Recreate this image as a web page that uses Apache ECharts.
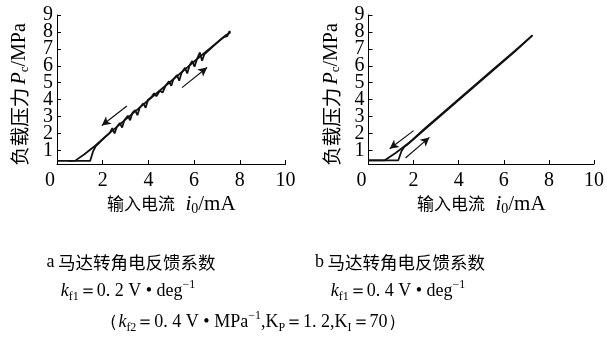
<!DOCTYPE html>
<html><head><meta charset="utf-8">
<script src="https://cdn.jsdelivr.net/npm/echarts@6/dist/echarts.min.js"></script>
<style>html,body{margin:0;padding:0;background:#fff}#c{width:607px;height:350px}</style>
</head><body><div id="c"></div>
<script>
// ---- data ----
const xTickValues = [0, 2, 4, 6, 8, 10];
const yTickValues = [1, 2, 3, 4, 5, 6, 7, 8, 9];
const yLabelsOdd = [1, 3, 5, 7, 9];
const yLabelsEven = [2, 4, 6, 8];

// chart a: k_f1 = 0.2, increasing current path (with oscillation)
const aUp = [[0,0.38],[1.45,0.38],[1.58,0.95],[1.68,1.22],[2.0,1.65],[2.3,2.02],[2.42,2.32],[2.52,2.0],[2.62,2.4],[2.75,2.62],[2.85,2.35],[2.95,2.8],[3.1,3.05],[3.2,2.78],[3.3,3.22],[3.42,3.38],[3.52,3.08],[3.62,3.52],[3.78,3.78],[3.88,3.52],[3.98,3.98],[4.15,4.18],[4.25,4.38],[4.35,4.2],[4.5,4.52],[4.62,4.42],[4.75,4.82],[4.9,5.08],[5.0,4.82],[5.1,5.22],[5.25,5.45],[5.35,5.12],[5.45,5.58],[5.6,5.88],[5.7,5.55],[5.8,6.02],[5.92,6.28],[6.02,5.95],[6.12,6.38],[6.25,6.78],[6.35,6.3],[6.45,6.68],[6.7,6.98],[7.0,7.35],[7.3,7.7],[7.45,7.75],[7.55,8.05],[7.58,7.95]];
// chart a: decreasing current path
const aDown = [[7.58,7.95],[7.4,7.82],[6.8,7.15],[6.0,6.25],[5.0,5.1],[4.2,4.2],[3.5,3.4],[2.8,2.6],[2.1,1.8],[1.6,1.2],[1.2,0.78],[0.8,0.4],[0.5,0.38]];
// chart b: k_f1 = 0.4
const bUp = [[0,0.42],[1.32,0.42],[1.46,0.95],[1.58,1.2],[1.7,1.32],[2.5,2.25],[3.5,3.4],[4.5,4.55],[5.5,5.7],[6.5,6.85],[7.27,7.8]];
const bDown = [[7.27,7.8],[6.5,6.9],[5.5,5.75],[4.5,4.6],[3.5,3.45],[2.5,2.3],[1.8,1.45],[1.2,0.85],[0.72,0.42],[0,0.42]];
// direction arrows [from, to] in data units
const aArrows = [[[3.06,3.62],[1.96,2.47]], [[5.47,4.71],[6.57,5.9]]];
const bArrows = [[[2.0,2.17],[0.94,1.10]], [[1.64,0.55],[2.70,1.77]]];

// ---- styling ----
const SERIF = 'Liberation Serif';
const CJK = 'Noto Sans CJK SC';
const INK = '#111';

function xAxisCfg(gi) {
  return {
    gridIndex: gi, type: 'value', min: 0, max: 10, interval: 2,
    axisLine: { show: true, onZero: false, lineStyle: { color: '#000', width: 1 } },
    axisTick: { show: true, inside: true, length: 4, lineStyle: { color: '#000' } },
    splitLine: { show: false },
    axisLabel: {
      margin: 7, color: '#000', fontSize: 20, fontFamily: SERIF,
      showMinLabel: true, showMaxLabel: true, hideOverlap: false,
      formatter: v => v === 0 ? '{z|0}' : String(v),
      rich: { z: { fontSize: 20, fontFamily: SERIF, color: '#000', padding: [0, 14, 0, 0] } }
    },
    name: '{h|输入电流}{t|  }{i|i}{s|0}{t|/mA}',
    nameLocation: 'middle', nameGap: 28,
    nameTextStyle: {
      color: '#000',
      rich: {
        h: { fontFamily: CJK, fontSize: 17, color: '#000', lineHeight: 24 },
        i: { fontFamily: SERIF, fontStyle: 'italic', fontSize: 21, color: '#000', lineHeight: 24 },
        s: { fontFamily: SERIF, fontSize: 14, color: '#000', lineHeight: 14, verticalAlign: 'bottom' },
        t: { fontFamily: SERIF, fontSize: 21, color: '#000', lineHeight: 24 }
      }
    }
  };
}
function yAxisCfg(gi) {
  return {
    gridIndex: gi, type: 'value', min: 0.2, max: 9,
    axisLine: { show: true, lineStyle: { color: '#000', width: 1 } },
    axisTick: { show: true, inside: true, length: 4, customValues: yTickValues, lineStyle: { color: '#000' } },
    splitLine: { show: false },
    axisLabel: { margin: 4, color: '#000', fontSize: 20, fontFamily: SERIF, customValues: yLabelsOdd,
      showMinLabel: true, showMaxLabel: true, hideOverlap: false },
    name: '{h|负载压力} {i|P}{s|c}{t|/MPa}',
    nameLocation: 'middle', nameGap: 26, nameRotate: 90,
    nameTextStyle: {
      color: '#000', padding: [0, 10, 0, 0],
      rich: {
        h: { fontFamily: CJK, fontSize: 19.5, color: '#000', lineHeight: 22 },
        i: { fontFamily: SERIF, fontStyle: 'italic', fontSize: 20, color: '#000', lineHeight: 22 },
        s: { fontFamily: SERIF, fontSize: 13, color: '#000', lineHeight: 13, verticalAlign: 'bottom' },
        t: { fontFamily: SERIF, fontSize: 20, color: '#000', lineHeight: 22 }
      }
    }
  };
}
// companion axis carrying the even tick labels (so dense labels are not auto-hidden)
function yAxisEvenCfg(gi) {
  return {
    gridIndex: gi, type: 'value', min: 0.2, max: 9, position: 'left',
    axisLine: { show: false }, axisTick: { show: false }, splitLine: { show: false },
    axisLabel: { margin: 4, color: '#000', fontSize: 20, fontFamily: SERIF, customValues: yLabelsEven,
      showMinLabel: true, showMaxLabel: true, hideOverlap: false }
  };
}
function pathSeries(gi, data, arrows) {
  const s = {
    type: 'line', xAxisIndex: gi, yAxisIndex: gi, data: data,
    showSymbol: false, symbol: 'none', smooth: false, silent: true,
    lineStyle: { color: INK, width: 1.8 }
  };
  if (arrows) {
    s.markLine = {
      silent: true, symbol: ['none', 'arrow'], symbolSize: [7, 9], precision: 3,
      label: { show: false },
      lineStyle: { color: INK, width: 1.2, type: 'solid' },
      emphasis: { disabled: true },
      data: arrows.map(a => [{ coord: a[0] }, { coord: a[1] }])
    };
  }
  return s;
}

const capRich = {
  l: { fontFamily: SERIF, fontSize: 18, color: '#000', lineHeight: 24 },
  h: { fontFamily: CJK, fontSize: 17.5, color: '#000', lineHeight: 24 },
  k: { fontFamily: SERIF, fontStyle: 'italic', fontSize: 18, color: '#000', lineHeight: 24 },
  K: { fontFamily: SERIF, fontSize: 18, color: '#000', lineHeight: 24 },
  s: { fontFamily: SERIF, fontSize: 12, color: '#000', lineHeight: 12, verticalAlign: 'bottom' },
  t: { fontFamily: SERIF, fontSize: 18, color: '#000', lineHeight: 24 },
  p: { fontFamily: SERIF, fontSize: 12, color: '#000', lineHeight: 12, verticalAlign: 'top' }
};
function cap(x, y, text) {
  return { type: 'text', x: x, y: y, silent: true,
    style: { text: text, rich: capRich, align: 'center', verticalAlign: 'middle' } };
}

const chart = echarts.init(document.getElementById('c'), null, { renderer: 'canvas' });
chart.setOption({
  animation: false,
  backgroundColor: '#fff',
  grid: [
    { left: 57, top: 15, width: 228.5, height: 149 },
    { left: 368.5, top: 15, width: 228.2, height: 149 }
  ],
  xAxis: [xAxisCfg(0), xAxisCfg(1)],
  yAxis: [yAxisCfg(0), yAxisCfg(1), yAxisEvenCfg(0), yAxisEvenCfg(1)],
  series: [
    pathSeries(0, aUp, aArrows),
    pathSeries(0, aDown, null),
    pathSeries(1, bUp, bArrows),
    pathSeries(1, bDown, null)
  ],
  graphic: [
    cap(131, 262, '{l|a} {h|马达转角电反馈系数}'),
    cap(128, 291, '{k|k}{s|f1}{t|＝0. 2 V • deg}{p|−1}'),
    cap(400, 262, '{l|b} {h|马达转角电反馈系数}'),
    cap(398, 291, '{k|k}{s|f1}{t|＝0. 4 V • deg}{p|−1}'),
    cap(253, 322, '{t|（}{k|k}{s|f2}{t|＝0. 4 V • MPa}{p|−1}{t|,}{K|K}{s|P}{t|＝1. 2,}{K|K}{s|I}{t|＝70）}')
  ]
});
</script>
</body></html>
